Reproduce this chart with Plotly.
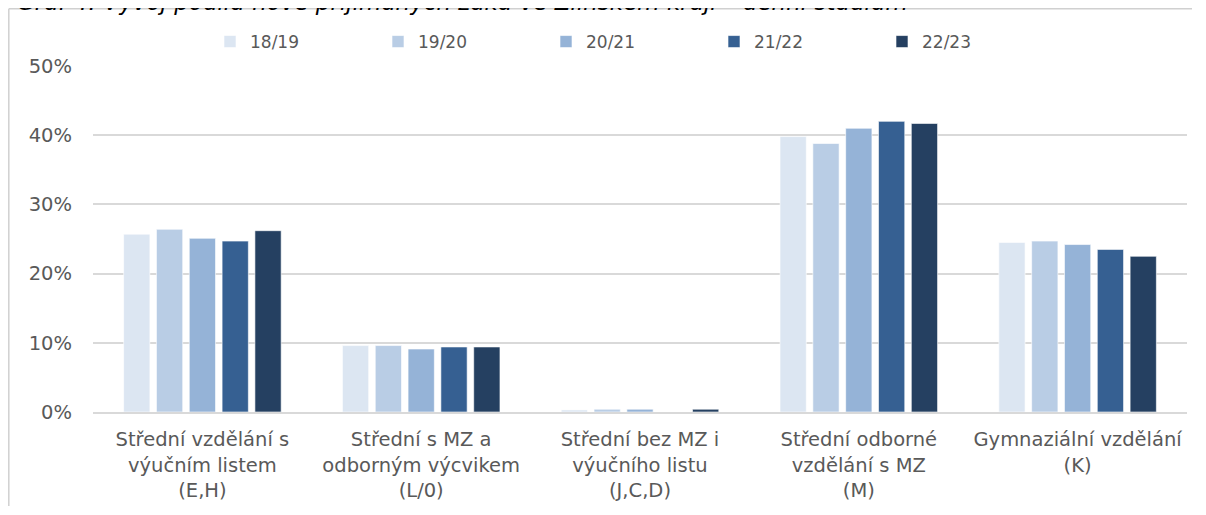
import plotly.graph_objects as go

categories = [
    "Střední vzdělání s<br>výučním listem<br>(E,H)",
    "Střední s MZ a<br>odborným výcvikem<br>(L/0)",
    "Střední bez MZ i<br>výučního listu<br>(J,C,D)",
    "Střední odborné<br>vzdělání s MZ<br>(M)",
    "Gymnaziální vzdělání<br>(K)",
]
series_names = ["18/19", "19/20", "20/21", "21/22", "22/23"]
v_1819 = [0.257, 0.096, 0.003, 0.398, 0.245]
v_1920 = [0.264, 0.096, 0.004, 0.388, 0.247]
v_2021 = [0.251, 0.091, 0.004, 0.410, 0.242]
v_2122 = [0.247, 0.094, 0.000, 0.420, 0.235]
v_2223 = [0.262, 0.094, 0.004, 0.417, 0.225]
values = [v_1819, v_1920, v_2021, v_2122, v_2223]
colors = ["#DCE6F2", "#B9CDE5", "#95B3D7", "#366092", "#254061"]
title_text = "Graf 4: Vývoj podílu nově přijímaných žáků ve Zlínském kraji – denní studium"

fig = go.Figure()
for name, vals, col in zip(series_names, values, colors):
    fig.add_trace(go.Bar(
        name=name, x=categories, y=vals,
        marker=dict(color=col, line=dict(color="rgba(255,255,255,0.6)", width=1)),
        hoverinfo="skip",
    ))

font_family = "DejaVu Sans, Liberation Sans, Arial, sans-serif"
OFF = 8  # page body margin
W, H = 1206 - 2 * OFF, 515 - 2 * OFF
# screen-space targets of the plot area
SX0, SX1, SY0, SY1 = 93, 1187, 66, 412
L = SX0 - OFF
R = W - (SX1 - OFF)
T = 0
B = H - (SY1 - OFF)
pw, ph = W - L - R, H - T - B

def px_x(x):
    return (x - OFF - L) / pw

def px_y(y):
    return 1 - (y - OFF - T) / ph

fig.update_layout(
    width=W, height=H,
    margin=dict(l=L, r=R, t=T, b=B, pad=0, autoexpand=False),
    paper_bgcolor="white", plot_bgcolor="white",
    barmode="group", bargap=0.25, bargroupgap=0.2,
    font=dict(family=font_family, color="#595959", size=18),
    showlegend=True,
    legend=dict(
        orientation="h", x=px_x(210), xanchor="left", y=px_y(42), yanchor="middle",
        entrywidth=123, entrywidthmode="pixels",
        font=dict(size=17, color="#595959", family=font_family),
        itemclick=False, itemdoubleclick=False,
        traceorder="normal", bgcolor="rgba(0,0,0,0)",
    ),
    xaxis=dict(
        showgrid=False, showline=True, linecolor="#D9D9D9", linewidth=1.5,
        ticks="", tickfont=dict(size=19.5, color="#595959"),
        ticklabelstandoff=9,
        automargin=False, fixedrange=True,
    ),
    yaxis=dict(
        domain=[0, px_y(SY0)],
        range=[0, 0.5], dtick=0.1, tickformat=".0%",
        showgrid=True, gridcolor="#D9D9D9", gridwidth=1.5,
        zeroline=False, showline=False, ticks="",
        tickfont=dict(size=19.5, color="#595959"),
        ticklabelstandoff=20,
        automargin=False, fixedrange=True,
    ),
    shapes=[
        dict(type="line", xref="paper", yref="paper",
             x0=px_x(8.8), x1=px_x(1192), y0=px_y(8.8), y1=px_y(8.8),
             line=dict(color="#D0D0D0", width=1.5)),
        dict(type="line", xref="paper", yref="paper",
             x0=px_x(8.8), x1=px_x(8.8), y0=px_y(8.8), y1=px_y(506),
             line=dict(color="#D0D0D0", width=1.5)),
    ],
    annotations=[
        dict(text=title_text, xref="paper", yref="paper",
             x=px_x(15), y=px_y(2), xanchor="left", yanchor="middle",
             showarrow=False,
             font=dict(size=23, color="#000000", family=font_family, style="italic")),
    ],
)

fig.write_html("out.html")
